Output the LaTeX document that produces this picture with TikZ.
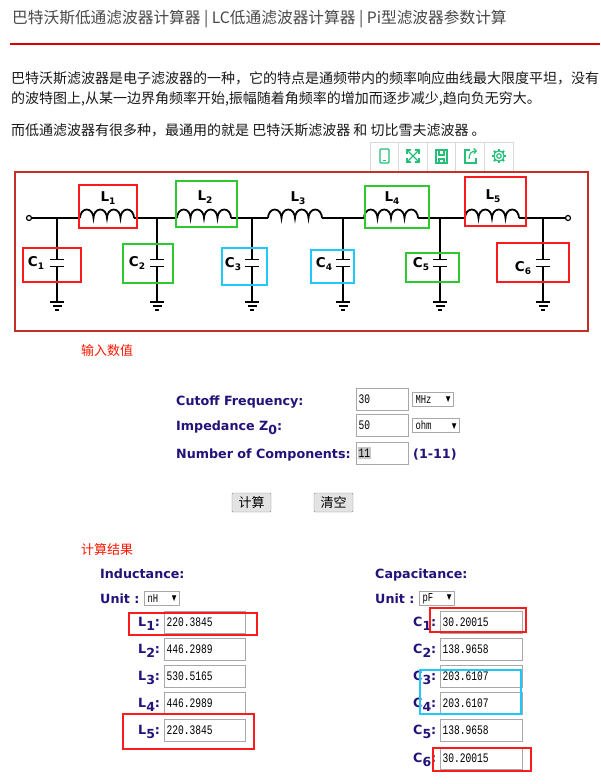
\documentclass[tikz,border=0pt]{standalone}
\usepackage{fontspec}
\setmainfont{DejaVu Sans}
\newfontfamily\cjk{Noto Sans CJK SC}
\newfontfamily\monofont{Liberation Mono}[FakeStretch=0.74]
\usepackage{tikz}
\usetikzlibrary{arrows.meta}
\usetikzlibrary{positioning}
\definecolor{framered}{RGB}{196,48,40}
\definecolor{boxred}{RGB}{250,28,28}
\definecolor{boxgreen}{RGB}{48,200,48}
\definecolor{boxblue}{RGB}{30,200,250}
\definecolor{navyink}{RGB}{34,18,122}
\definecolor{headred}{RGB}{255,24,0}
\definecolor{titlegray}{RGB}{72,72,72}
\definecolor{iconteal}{RGB}{38,190,120}
\definecolor{fieldgray}{RGB}{168,168,168}
\newcommand{\cidx}[1]{\raisebox{-2.5pt}{\fontsize{9}{9}\selectfont #1}}
\newcommand{\fidx}[1]{\raisebox{-4.5pt}{\fontsize{12.5}{12}\selectfont #1}}
\tikzset{
    wire/.style={line width=1.8pt},
    gnd/.style={line width=1.5pt},
    rbox/.style={draw=boxred, line width=1.6pt},
    gbox/.style={draw=boxgreen, line width=1.6pt},
    bbox/.style={draw=boxblue, line width=1.6pt},
    terminal/.style={circle, draw, fill=white, line width=1.2pt, inner sep=0, minimum size=5pt},
    partlabel/.style={inner sep=0, font=\fontsize{13.5}{13.5}\selectfont\bfseries},
    formlabel/.style={anchor=base west, inner sep=0, text=navyink, font=\fontsize{12.7}{13}\selectfont\bfseries},
    redhead/.style={anchor=west, inner sep=0, text=headred, font=\cjk\fontsize{13}{13}\selectfont},
    bodytext/.style={anchor=west, inner sep=0, text=black!90, font=\cjk\fontsize{14}{14}\selectfont},
    inbox/.style={draw=fieldgray, line width=1pt, anchor=north west, inner xsep=2pt, inner ysep=0pt,
        minimum height=22pt, text width=#1, align=left, font=\monofont\fontsize{13}{13}\selectfont},
    selbox/.style={draw=fieldgray, line width=1pt, anchor=north west, inner xsep=3pt, inner ysep=0pt,
        minimum height=14pt, text width=#1, align=left, font=\monofont\fontsize{12}{12}\selectfont},
    pushbtn/.style={draw=black!45, fill=black!11, rounded corners=1pt, minimum width=39pt, minimum height=19pt,
        inner sep=0, font=\cjk\fontsize{13}{13}\selectfont},
    icon/.style={draw=iconteal, line width=1.2pt},
}
\newcommand{\dn}{{\fontsize{10.5}{10}\selectfont\raisebox{0.5pt}{▼}}}

\begin{document}
\begin{tikzpicture}[x=1pt, y=-1pt]
    \useasboundingbox[fill=white] (0,0) rectangle (600,784);

    % page heading and intro
    \node[anchor=west, inner sep=0, text=titlegray, font=\cjk\fontsize{15.7}{16}\selectfont] (title) at (12,19)
        {巴特沃斯低通滤波器计算器 | LC低通滤波器计算器 | Pi型滤波器参数计算};
    \draw[draw=red!85!black, line width=2pt] (10,44) -- (600,44);
    \node[bodytext] (intro1) at (11,78) {巴特沃斯滤波器是电子滤波器的一种，它的特点是通频带内的频率响应曲线最大限度平坦，没有};
    \node[bodytext] (intro2) at (11,99) {的波特图上,从某一边界角频率开始,振幅随着角频率的增加而逐步减少,趋向负无穷大。};
    \node[bodytext] (intro3) at (11,130) {而低通滤波器有很多种，最通用的就是 巴特沃斯滤波器 和 切比雪夫滤波器 。};

    % toolbar
    \draw[draw=black!15, line width=0.8pt] (370,142) rectangle (513,171);
    \foreach \k in {1,...,4}
        \draw[draw=black!15, line width=0.8pt] (370+28.6*\k,142) -- (370+28.6*\k,171);
    \draw[icon, rounded corners=1pt] (380,149) rectangle (389,163);
    \draw[icon] (383,160.5) -- (386,160.5);
    \draw[icon] (408,151) -- (418,161) (418,151) -- (408,161);
    \draw[icon] (407,154) -- (407,150) -- (411,150) (415,150) -- (419,150) -- (419,154)
        (407,158) -- (407,162) -- (411,162) (415,162) -- (419,162) -- (419,158);
    \draw[icon] (436,150) rectangle (447,163);
    \draw[icon] (439,150) -- (439,155) -- (444,155) -- (444,150) (439,163) -- (439,159) -- (444,159) -- (444,163);
    \draw[icon] (470,150) -- (465,150) -- (465,163) -- (476,163) -- (476,158);
    \draw[icon, -{Straight Barb[length=2.5pt]}] (469,159) .. controls (469,153) and (472,151) .. (477,151);
    \coordinate (gear) at (499,156);
    \draw[icon] (gear) circle (2.3) (gear) circle (5.2);
    \foreach \a in {0,45,...,315}
        \draw[icon, line width=2pt] (gear) ++(\a:5) -- ++(\a:2.2);

    % circuit frame
    \draw[draw=framered, line width=2pt] (15,172) rectangle (588,331);

    % terminals and series coils
    \node[terminal] (tin) at (29,218) {};
    \node[terminal] (tout) at (568,218) {};
    \foreach \s/\n in {80/1,177/2,268/3,364/4,465/5}{
        \coordinate (Lin\n) at (\s,218);
        \coordinate (Lout\n) at (\s+54,218);
        \draw[wire] (Lin\n) \foreach \k in {1,...,4}{ arc[start angle=180, end angle=360, x radius=6.75, y radius=8.5] };
    }
    \draw[wire] (tin) -- (Lin1) (Lout1) -- (Lin2) (Lout2) -- (Lin3) (Lout3) -- (Lin4)
        (Lout4) -- (Lin5) (Lout5) -- (tout);

    % shunt capacitors to ground
    \foreach \x/\n in {57/1,157/2,252/3,343/4,440/5,543/6}{
        \coordinate (J\n) at (\x,218);
        \draw[wire] (J\n) -- (\x,259.5) (\x-7,259.5) -- (\x+7,259.5)
            (\x-7,266.5) -- (\x+7,266.5) (\x,266.5) -- (\x,302);
        \draw[gnd] (\x-7,302) -- (\x+7,302) (\x-4.5,306) -- (\x+4.5,306) (\x-2,310) -- (\x+2,310);
    }

    % part labels
    \node[partlabel] (nL1) at (108,198) {L\cidx{1}};
    \node[partlabel] (nL2) at (205,197) {L\cidx{2}};
    \node[partlabel] (nL3) at (298,198) {L\cidx{3}};
    \node[partlabel] (nL4) at (392,198) {L\cidx{4}};
    \node[partlabel] (nL5) at (493,196) {L\cidx{5}};
    \node[partlabel] (nC1) at (36,263) {C\cidx{1}};
    \node[partlabel] (nC2) at (137,263) {C\cidx{2}};
    \node[partlabel] (nC3) at (233,264) {C\cidx{3}};
    \node[partlabel] (nC4) at (324,264) {C\cidx{4}};
    \node[partlabel] (nC5) at (421,264) {C\cidx{5}};
    \node[partlabel] (nC6) at (523,268) {C\cidx{6}};

    % highlight boxes
    \draw[rbox] (79,185) rectangle (137,228);
    \draw[gbox] (176,181) rectangle (237,227);
    \draw[gbox] (365,186) rectangle (429,228);
    \draw[rbox] (465,177) rectangle (526,226);
    \draw[rbox] (23,248) rectangle (81,282);
    \draw[gbox] (123,244) rectangle (173,283);
    \draw[bbox] (222,248) rectangle (267,285);
    \draw[bbox] (311,250) rectangle (354,283);
    \draw[gbox] (406,253) rectangle (459,282);
    \draw[rbox] (497,243) rectangle (569,282);

    % input form
    \node[redhead] (inhead) at (81,351) {输入数值};
    \node[formlabel] (fcut) at (176,405) {Cutoff Frequency:};
    \node[formlabel] (fimp) at (176,430) {Impedance Z\fidx{0}:};
    \node[formlabel] (fnum) at (176,458) {Number of Components:};
    \node[inbox=48pt] (vcut) at (356,388) {30};
    \node[inbox=48pt] (vimp) at (356,414) {50};
    \node[inbox=48pt, minimum height=22pt] (vnum) at (356,442) {\phantom{11}};
    \node[fill=black!22, inner xsep=1pt, inner ysep=2pt, anchor=west, font=\monofont\fontsize{13}{13}\selectfont] (selnum) at (357.5,453) {11};
    \node[selbox=35pt] (ucut) at (412,392) {MHz\hfill\dn};
    \node[selbox=41pt] (uimp) at (412,418) {ohm\hfill\dn};
    \node[formlabel] (frange) at (413,458) {(1-11)};
    \node[pushbtn] (bcalc) at (251.5,502.5) {计算};
    \node[pushbtn] (bclear) at (333.5,502.5) {清空};

    % results
    \node[redhead] (outhead) at (81,550) {计算结果};
    \node[formlabel] (hind) at (100,578) {Inductance:};
    \node[formlabel] (uind) at (100,603) {Unit :};
    \node[selbox=29pt] (selind) at (144,591) {nH\hfill\dn};
    \node[formlabel] (hcap) at (375,578) {Capacitance:};
    \node[formlabel] (ucap) at (375,603) {Unit :};
    \node[selbox=29pt] (selcap) at (419,591) {pF\hfill\dn};
    \foreach \i/\v/\y in {1/220.3845/611, 2/446.2989/638, 3/530.5165/665, 4/446.2989/692, 5/220.3845/719}{
        \node[formlabel] (labL\i) at (138,\y+15) {L\fidx{\i}:};
        \node[inbox=77pt] (valL\i) at (164,\y) {\v};
    }
    \foreach \i/\v/\y in {1/30.20015/611, 2/138.9658/638, 3/203.6107/665, 4/203.6107/692, 5/138.9658/719, 6/30.20015/747}{
        \node[formlabel] (labC\i) at (413,\y+15) {C\fidx{\i}:};
        \node[inbox=78pt] (valC\i) at (440,\y) {\v};
    }
    \draw[rbox] (129,613) rectangle (257,635);
    \draw[rbox] (123,714) rectangle (254,749);
    \draw[rbox] (430,608) rectangle (526,632);
    \draw[bbox] (420,670) rectangle (521,714);
    \draw[rbox] (433,748) rectangle (531,771);
\end{tikzpicture}
\end{document}
